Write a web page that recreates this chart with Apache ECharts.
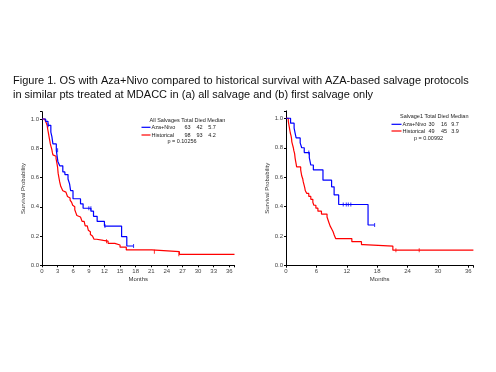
<!DOCTYPE html>
<html><head><meta charset="utf-8">
<script src="https://cdn.jsdelivr.net/npm/echarts@6/dist/echarts.min.js"></script>
<style>html,body{margin:0;padding:0;background:#fff}#c{width:496px;height:372px}</style>
</head><body><div id="c"></div>
<script>
// ---- Data ----
const titleLines = [
  "Figure 1. OS with Aza+Nivo compared to historical survival with AZA-based salvage protocols",
  "in similar pts treated at MDACC in (a) all salvage and (b) first salvage only"
];
const xTicksA = [0,3,6,9,12,15,18,21,24,27,30,33,36];
const xTicksB = [0,6,12,18,24,30,36];
const groupNames = ["Aza+Nivo", "Historical"];

// Panel A: all salvages  [month, survival]
const aBlue = [[0,1],[0.7,0.984],[1.15,0.957],[1.7,0.91],[1.9,0.88],[2.1,0.83],[2.75,0.786],[3.05,0.71],[3.4,0.68],[4.0,0.638],[4.4,0.62],[5.0,0.59],[5.3,0.557],[5.5,0.51],[5.96,0.455],[7.4,0.42],[7.9,0.39],[9.4,0.37],[9.9,0.335],[10.6,0.30],[12.0,0.268],[15.3,0.196],[16.3,0.132],[17.6,0.132]];
const aRed = [[0,1],[0.5,0.99],[0.8,0.975],[1.0,0.955],[1.1,0.93],[1.2,0.91],[1.3,0.89],[1.4,0.87],[1.5,0.85],[1.6,0.83],[1.75,0.81],[1.9,0.79],[2.0,0.77],[2.1,0.755],[2.4,0.745],[2.7,0.73],[2.8,0.71],[2.9,0.69],[3.0,0.67],[3.05,0.65],[3.1,0.63],[3.2,0.61],[3.3,0.59],[3.4,0.57],[3.5,0.555],[3.6,0.54],[3.8,0.525],[4.0,0.51],[4.3,0.50],[4.6,0.49],[4.9,0.47],[5.2,0.46],[5.4,0.445],[5.7,0.43],[5.9,0.41],[6.1,0.40],[6.3,0.38],[6.5,0.36],[6.7,0.34],[6.9,0.33],[7.4,0.32],[7.7,0.30],[8.1,0.29],[8.3,0.27],[8.7,0.26],[8.9,0.24],[9.1,0.23],[9.3,0.21],[9.5,0.20],[9.7,0.19],[10.0,0.178],[10.5,0.17],[11.8,0.165],[12.7,0.15],[14.0,0.139],[15.0,0.124],[16.2,0.105],[21.1,0.093],[26.4,0.075],[37,0.075]];
const aBlueCens = [[1.2,0.957],[3.0,0.786],[9.0,0.39],[9.4,0.39],[12.1,0.268],[17.6,0.132]];
const aRedCens = [[12.4,0.165],[21.6,0.093],[26.3,0.075]];
const aStats = {header:"All Salvages Total Died Median", total:[63,98], died:[42,93], median:["5.7","4.2"], p:"p = 0.10256"};

// Panel B: first salvage
const bBlue = [[0,1],[0.9,0.967],[1.6,0.933],[1.8,0.90],[2.0,0.867],[2.8,0.833],[3.1,0.80],[3.6,0.767],[4.6,0.733],[4.9,0.683],[5.4,0.65],[7.3,0.58],[9.0,0.535],[9.5,0.48],[10.4,0.415],[16.2,0.276],[17.5,0.276]];
const bRed = [[0,1],[0.45,0.98],[0.55,0.96],[0.65,0.94],[0.75,0.92],[0.85,0.90],[1.0,0.88],[1.1,0.86],[1.15,0.84],[1.3,0.82],[1.45,0.80],[1.55,0.78],[1.7,0.76],[1.8,0.73],[1.9,0.71],[2.0,0.69],[2.1,0.67],[2.9,0.65],[3.0,0.63],[3.1,0.61],[3.3,0.59],[3.4,0.57],[3.55,0.55],[3.7,0.53],[3.8,0.51],[4.1,0.49],[4.5,0.47],[4.9,0.45],[5.3,0.43],[5.5,0.41],[5.9,0.39],[6.3,0.37],[7.0,0.35],[8.1,0.33],[8.3,0.31],[8.5,0.29],[8.7,0.27],[9.0,0.25],[9.3,0.23],[9.5,0.21],[9.8,0.184],[13.0,0.163],[14.9,0.143],[15.3,0.133],[21.1,0.105],[37,0.105]];
const bBlueCens = [[4.5,0.767],[11.3,0.415],[11.9,0.415],[12.3,0.415],[12.8,0.415],[17.5,0.276]];
const bRedCens = [[21.7,0.105],[26.3,0.105]];
const bStats = {header:"Salvage1 Total Died Median", total:[30,49], died:[16,45], median:["9.7","3.9"], p:"p = 0.00992"};

// ---- Chart ----
const BLUE = '#0000ff', RED = '#ff0000';
const FONT = 'Liberation Sans, Arial, sans-serif';
const chart = echarts.init(document.getElementById('c'), null, {renderer:'canvas'});

function xAxis(gi, ticks){
  return {gridIndex:gi, type:'value', min:0, max:37, interval:ticks[1]-ticks[0],
    name:'Months', nameLocation:'middle', nameGap:11,
    nameTextStyle:{fontSize:6, color:'#333', fontFamily:FONT},
    axisLine:{lineStyle:{color:'#000', width:1}},
    axisTick:{show:true, length:2, lineStyle:{color:'#000'}},
    axisLabel:{fontSize:6, color:'#444', margin:3, fontFamily:FONT,
      formatter:v => ticks.indexOf(v) >= 0 ? String(v) : ''},
    splitLine:{show:false}};
}
function yAxis(gi){
  return {gridIndex:gi, type:'value', min:0, max:1.05, interval:0.2,
    name:'Survival Probability', nameLocation:'middle', nameGap:14, nameRotate:90,
    nameTextStyle:{fontSize:6, color:'#333', fontFamily:FONT},
    axisLine:{show:true, lineStyle:{color:'#000', width:1}},
    axisTick:{show:true, length:2, lineStyle:{color:'#000'}},
    axisLabel:{fontSize:6, color:'#444', margin:3, fontFamily:FONT,
      formatter:v => v <= 1.0001 ? v.toFixed(1) : ''},
    splitLine:{show:false}};
}
function km(gi, data, color, name){
  return {type:'line', name, xAxisIndex:gi, yAxisIndex:gi, data, step:'end',
    showSymbol:false, silent:true, animation:false,
    lineStyle:{color, width:1.2}, z:3};
}
function cens(gi, data, color){
  return {type:'scatter', xAxisIndex:gi, yAxisIndex:gi, data, symbol:'rect',
    symbolSize:[1,4], itemStyle:{color}, silent:true, animation:false, z:4};
}

function legendGraphics(st, hx, hy, lx0, lx1, nameX, cols, rowY, pX, pY){
  const g = [];
  const t = (text, x, y, align) => ({type:'text', x, y, style:{text, fontSize:5.5, fontFamily:FONT, fill:'#222', align:align||'left', verticalAlign:'middle'}});
  g.push(t(st.header, hx, hy));
  [BLUE, RED].forEach((c, i) => {
    g.push({type:'line', shape:{x1:lx0, y1:rowY[i], x2:lx1, y2:rowY[i]}, style:{stroke:c, lineWidth:1.2}});
    g.push(t(groupNames[i], nameX, rowY[i]));
    g.push(t(String(st.total[i]), cols[0], rowY[i], 'center'));
    g.push(t(String(st.died[i]), cols[1], rowY[i], 'center'));
    g.push(t(st.median[i], cols[2], rowY[i], 'center'));
  });
  g.push(t(st.p, pX, pY, 'center'));
  return g;
}

const graphics = [
  {type:'text', x:13, y:81, style:{text:titleLines[0], fontSize:11, fontFamily:FONT, fill:'#111', verticalAlign:'middle'}},
  {type:'text', x:13, y:94.5, style:{text:titleLines[1], fontSize:11, fontFamily:FONT, fill:'#111', verticalAlign:'middle'}},
  ...legendGraphics(aStats, 149.5, 120, 141.5, 150.5, 151.5, [187.5,199.5,212], [127.3,135], 182, 141.7),
  ...legendGraphics(bStats, 400, 116.7, 391.5, 401.5, 402.5, [431.5,444,455], [124.3,131], 428.5, 138.3)
];

chart.setOption({
  animation:false,
  backgroundColor:'#fff',
  grid:[
    {left:42, top:111.7, width:192.5, height:153.6, containLabel:false},
    {left:286, top:110.9, width:187.4, height:154.8, containLabel:false}
  ],
  xAxis:[xAxis(0, xTicksA), xAxis(1, xTicksB)],
  yAxis:[yAxis(0), yAxis(1)],
  series:[
    km(0, aRed, RED, 'Historical'), km(0, aBlue, BLUE, 'Aza+Nivo'),
    cens(0, aRedCens, RED), cens(0, aBlueCens, BLUE),
    km(1, bRed, RED, 'Historical'), km(1, bBlue, BLUE, 'Aza+Nivo'),
    cens(1, bRedCens, RED), cens(1, bBlueCens, BLUE)
  ],
  graphic:graphics
});
</script></body></html>
